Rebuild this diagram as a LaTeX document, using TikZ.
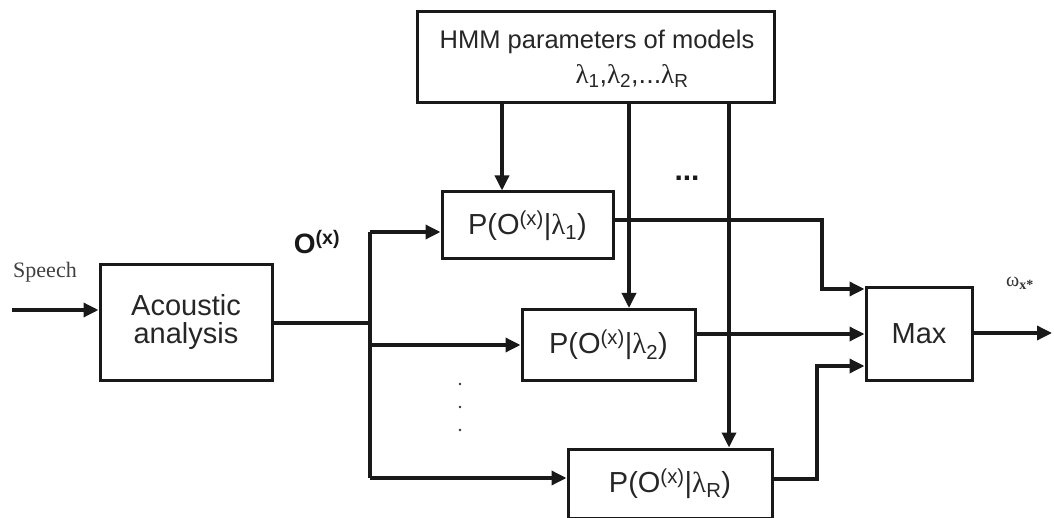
\documentclass[tikz,border=0pt]{standalone}
\usepackage{fontspec}
\setmainfont{Liberation Sans}
\newfontfamily\serifont{Liberation Serif}
\usetikzlibrary{arrows.meta}
\tikzset{
  blk/.style={draw=black!90, line width=3pt, rectangle, inner sep=0pt, align=center,
    font=\fontsize{29}{32}\selectfont, text=black!85},
  conn/.style={draw=black!90, line width=3.4pt},
  arr/.style={conn, -{Triangle[length=15pt,width=14pt]}},
}
\newcommand{\lam}{{\serifont λ}}
\begin{document}
\begin{tikzpicture}[x=1pt,y=-1pt]
\useasboundingbox (0,0) rectangle (1054,518);
% blocks
\node[blk, minimum width=172pt, minimum height=115pt] (ac) at (186,322.5) {Acoustic\\[-4pt]analysis};
\node[blk, minimum width=357pt, minimum height=91pt] (hmm) at (595.5,57.5) {};
\node[font=\fontsize{25.5}{28}\selectfont, text=black!85] (hmmt) at (597,42) {HMM parameters of models};
\node[font=\fontsize{27}{30}\selectfont, text=black!85] (laml) at (632,76) {\lam\textsubscript{1},\lam\textsubscript{2},...\lam\textsubscript{R}};
\node[blk, minimum width=171pt, minimum height=67pt] (p1) at (527.5,225.5) {P(O\textsuperscript{(x)}|\lam\textsubscript{1})};
\node[blk, minimum width=173pt, minimum height=71pt] (p2) at (608.5,345) {P(O\textsuperscript{(x)}|\lam\textsubscript{2})};
\node[blk, minimum width=204pt, minimum height=69pt] (pR) at (670,483.5) {P(O\textsuperscript{(x)}|\lam\textsubscript{R})};
\node[blk, minimum width=106pt, minimum height=92pt] (mx) at (919,334) {Max};
% labels
\node[font=\serifont\fontsize{22}{24}\selectfont, text=black!75] (sp) at (45,272) {Speech};
\node[font=\bfseries\fontsize{28}{30}\selectfont, text=black!90] (ox) at (317,242) {O\textsuperscript{(x)}};
\node[font=\serifont\fontsize{20}{22}\selectfont, text=black!80] (om) at (1020,283) {ω\textsubscript{\textbf{x*}}};
\node[font=\bfseries\fontsize{30}{32}\selectfont, text=black!90] (dots) at (687,178) {...};
\foreach \yy [count=\i] in {384,407,430} \fill[black!80] (460,\yy) circle (1.4pt) coordinate (d\i);
% coordinates
\coordinate (sin) at (12,310);
\coordinate (bt) at (370,232);
\coordinate (bm) at (370,345);
\coordinate (bb) at (370,478);
% connectors
\draw[arr] (sin) -- (sin -| ac.west);
\draw[conn] (ac.east |- 0,323) -- (370,323);
\draw[conn] (bt) -- (bb);
\draw[arr] (bt) -- (bt -| p1.west);
\draw[arr] (bm) -- (bm -| p2.west);
\draw[arr] (bb) -- (bb -| pR.west);
\draw[arr] (hmm.south -| 502,0) -- (p1.north -| 502,0);
\draw[arr] (hmm.south -| 629,0) -- (p2.north -| 629,0);
\draw[arr] (hmm.south -| 729,0) -- (pR.north -| 729,0);
\draw[arr] (p1.east |- 0,220) -- (822,220) -- (822,289) -- (mx.west |- 0,289);
\draw[arr] (p2.east |- 0,334) -- (mx.west |- 0,334);
\draw[arr] (pR.east |- 0,479) -- (817,479) -- (817,366) -- (mx.west |- 0,366);
\draw[arr] (mx.east |- 0,333) -- (1052,333);
\end{tikzpicture}
\end{document}
